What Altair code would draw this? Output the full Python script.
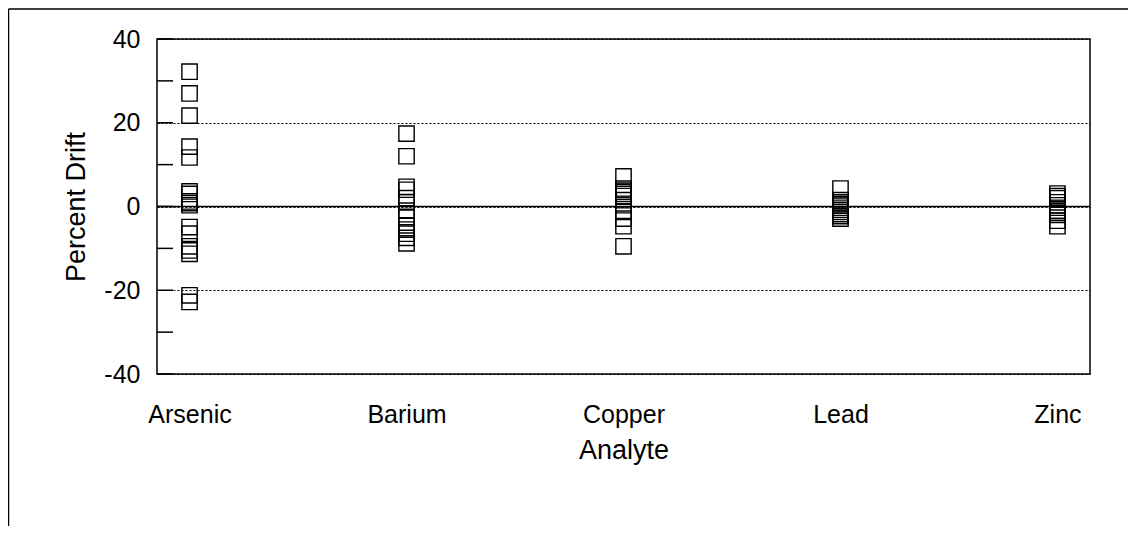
import altair as alt
import pandas as pd

# ---- data ----
analytes = ["Arsenic", "Barium", "Copper", "Lead", "Zinc"]
arsenic = [32.2, 27.0, 21.7, 14.3, 11.7, 3.6, 3.0, 1.2, 0.8, 0.3,
           -4.9, -6.5, -9.5, -10.5, -11.3, -21.2, -22.8]
barium = [17.4, 12.0, 4.7, 4.0, 2.0, 1.0, -1.0, -2.5, -4.5, -5.5,
          -6.5, -7.5, -8.8]
copper = [7.2, 4.3, 4.0, 3.5, 3.0, 2.5, 1.5, 0.3, -1.3, -2.9, -4.7, -9.5]
lead = [4.3, 1.5, 1.0, 0.5, 0.2, -0.3, -0.8, -1.3, -1.8, -2.3, -2.9]
zinc = [3.1, 2.5, 2.0, 1.0, 0.3, -0.3, -1.0, -1.5, -2.0, -3.4, -4.7]

y_label_values = [-40, -20, 0, 20, 40]
y_minor_ticks = [-40, -30, -20, -10, 0, 10, 20, 30, 40]
zero_line = [0]

series = {"Arsenic": arsenic, "Barium": barium, "Copper": copper,
          "Lead": lead, "Zinc": zinc}
rows = [{"Analyte": a, "Drift": v} for a in analytes for v in series[a]]
df = pd.DataFrame(rows)
ticks_df = pd.DataFrame({"Drift": y_minor_ticks})
zero_df = pd.DataFrame({"Drift": zero_line})

FONT = "Liberation Sans"
W, H = 933, 335
yscale = alt.Scale(domain=[-40, 40], nice=False, zero=False)
yaxis = alt.Axis(title="Percent Drift", values=y_label_values,
                 labelExpr="'' + datum.value",
                 ticks=False, tickSize=0, domain=False, grid=True,
                 gridDash=[2, 2], gridColor="black", gridWidth=1,
                 gridOpacity=1, labelPadding=17, titlePadding=13)

points = alt.Chart(df).mark_point(
    shape="square", filled=False, color="black", size=235, strokeWidth=1.4,
    opacity=1
).encode(
    x=alt.X("Analyte:N", sort=analytes,
            scale=alt.Scale(type="point", padding=0.15),
            axis=alt.Axis(title="Analyte", labelAngle=0, ticks=False, tickSize=0,
                          domain=False, grid=False, labelPadding=28,
                          titlePadding=10)),
    y=alt.Y("Drift:Q", scale=yscale, axis=yaxis),
)

minor = alt.Chart(ticks_df).mark_rule(color="black", strokeWidth=1.5).encode(
    y=alt.Y("Drift:Q", scale=yscale, axis=yaxis),
    x=alt.value(0), x2=alt.value(16),
)

zero = alt.Chart(zero_df).mark_rule(color="black", strokeWidth=1.3).encode(
    y=alt.Y("Drift:Q", scale=yscale, axis=yaxis),
    x=alt.value(0), x2=alt.value(W),
)

# outer chart frame (top and left edges of the chart-area border)
frame_top = alt.Chart(zero_df).mark_rule(color="black", strokeWidth=1.5).encode(
    x=alt.value(-148.5), x2=alt.value(1200), y=alt.value(-30),
)
frame_left = alt.Chart(zero_df).mark_rule(color="black", strokeWidth=1.5).encode(
    x=alt.value(-148.5), y=alt.value(-30), y2=alt.value(700),
)

chart = alt.layer(frame_top, frame_left, zero, minor, points).properties(
    width=W, height=H,
    autosize=alt.AutoSizeParams(type="none"),
    padding={"left": 149, "top": 31, "right": 38, "bottom": 152},
).configure_view(
    stroke="black", strokeWidth=1.5
).configure_axis(
    labelFont=FONT, titleFont=FONT, labelFontSize=25, titleFontSize=27,
    labelColor="black", titleColor="black", titleFontWeight="normal",
)

chart.save("out.html", embed_options={"renderer": "svg", "actions": False})
